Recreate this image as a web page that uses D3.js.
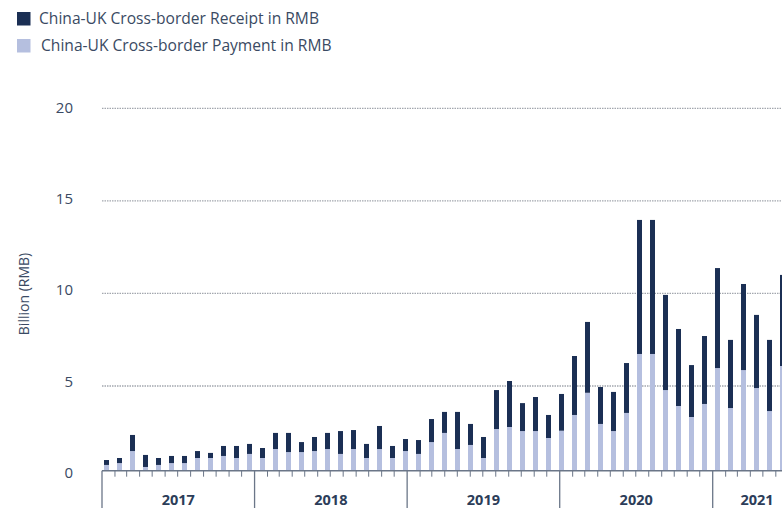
<!DOCTYPE html>
<html>
<head>
<meta charset="utf-8">
<script src="https://cdn.jsdelivr.net/npm/d3@7"></script>
<style>
  body { margin: 0; background: #fff; }
  svg { display: block; font-family: "Open Sans", sans-serif; }
</style>
</head>
<body>
<svg id="chart" width="782" height="513"></svg>
<script>
const months = [
  "2017-01","2017-02","2017-03","2017-04","2017-05","2017-06","2017-07","2017-08","2017-09","2017-10","2017-11","2017-12",
  "2018-01","2018-02","2018-03","2018-04","2018-05","2018-06","2018-07","2018-08","2018-09","2018-10","2018-11","2018-12",
  "2019-01","2019-02","2019-03","2019-04","2019-05","2019-06","2019-07","2019-08","2019-09","2019-10","2019-11","2019-12",
  "2020-01","2020-02","2020-03","2020-04","2020-05","2020-06","2020-07","2020-08","2020-09","2020-10","2020-11","2020-12",
  "2021-01","2021-02","2021-03","2021-04","2021-05"
];

// payment (light, bottom) and receipt (dark, top), billion RMB
const payment = [
  0.34, 0.45, 1.16, 0.22, 0.34, 0.45, 0.45, 0.75, 0.75, 0.87, 0.75, 0.99,
  0.75, 1.28, 1.10, 1.10, 1.16, 1.28, 0.99, 1.28, 0.75, 1.28, 0.75, 1.16,
  0.99, 1.69, 2.23, 1.28, 1.52, 0.75, 2.46, 2.58, 2.34, 2.34, 1.93, 2.36,
  3.29, 4.60, 2.76, 2.34, 3.41, 6.73, 6.73, 4.76, 3.82, 3.17, 3.94, 5.97,
  3.70, 5.86, 4.88, 3.52, 6.08
];
const receipt = [
  0.29, 0.30, 0.95, 0.71, 0.41, 0.42, 0.42, 0.41, 0.30, 0.59, 0.71, 0.59,
  0.59, 0.95, 1.13, 0.59, 0.83, 0.95, 1.35, 1.12, 0.83, 1.36, 0.71, 0.71,
  0.82, 1.36, 1.24, 2.19, 1.24, 1.24, 2.30, 2.69, 1.65, 2.01, 1.36, 2.17,
  3.33, 3.86, 2.18, 2.31, 2.83, 7.24, 7.24, 5.16, 4.26, 2.96, 3.76, 5.40,
  3.79, 4.65, 3.96, 3.97, 4.92
];

const yTicks = [0, 5, 10, 15, 20];
const yearLabels = ["2017", "2018", "2019", "2020", "2021"];
const seriesNames = ["China-UK Cross-border Receipt in RMB", "China-UK Cross-border Payment in RMB"];

const RECEIPT_COLOR = "#1b2f54";
const PAYMENT_COLOR = "#b5bfdf";
const TEXT_COLOR = "#3a4a63";
const AXIS_COLOR = "#6b7688";

const svg = d3.select("#chart");

const rows = months.map((m, i) => ({ month: m, payment: payment[i], receipt: receipt[i] }));
const stack = d3.stack().keys(["payment", "receipt"])(rows);

// bars: evenly spaced band scale
const x = d3.scaleBand()
  .domain(months)
  .range([102, 787])
  .paddingInner(8 / 13)
  .paddingOuter(2 / 13);

// time axis underneath
const parse = d3.utcParse("%Y-%m-%d");
const xTime = d3.scaleUtc()
  .domain([parse("2017-01-01"), parse("2021-01-01")])
  .range([102, 712.7]);
const timeEnd = parse("2021-08-01");

const y = d3.scaleLinear().domain([0, 5, 20]).range([470.7, 386, 108.3]);
const yLabel = d3.scaleLinear().domain([0, 20]).range([472.7, 107.3]);

// gridlines
svg.append("g")
  .selectAll("line")
  .data(yTicks.filter((d) => d > 0))
  .join("line")
  .attr("x1", 102)
  .attr("x2", 782)
  .attr("y1", (d) => y(d))
  .attr("y2", (d) => y(d))
  .attr("stroke", "#a3a7ae")
  .attr("stroke-width", 1.3)
  .attr("stroke-dasharray", "1.5,1");

// y tick labels
svg.append("g")
  .selectAll("text")
  .data(yTicks)
  .join("text")
  .attr("x", 73)
  .attr("y", (d) => yLabel(d))
  .attr("dy", "0.35em")
  .attr("text-anchor", "end")
  .attr("font-size", 15)
  .attr("fill", TEXT_COLOR)
  .text((d) => d);

svg.append("text")
  .attr("transform", "translate(29, 294) rotate(-90)")
  .attr("text-anchor", "middle")
  .attr("font-size", 14)
  .attr("fill", TEXT_COLOR)
  .text("Billion (RMB)");

// bars
svg.append("g")
  .selectAll("g")
  .data(stack)
  .join("g")
  .attr("fill", (s) => (s.key === "payment" ? PAYMENT_COLOR : RECEIPT_COLOR))
  .selectAll("rect")
  .data((s) => s)
  .join("rect")
  .attr("x", (d) => x(d.data.month))
  .attr("width", x.bandwidth())
  .attr("y", (d) => y(d[1]))
  .attr("height", (d) => y(d[0]) - y(d[1]));

// x axis
const axis = svg.append("g").attr("stroke", AXIS_COLOR);
axis.append("line")
  .attr("x1", 102).attr("x2", 782)
  .attr("y1", y(0)).attr("y2", y(0))
  .attr("stroke-width", 1.5);

axis.selectAll(".month-tick")
  .data(d3.utcMonth.range(xTime.domain()[0], timeEnd).filter((d) => d.getUTCMonth() !== 0))
  .join("line")
  .attr("class", "month-tick")
  .attr("x1", (d) => xTime(d)).attr("x2", (d) => xTime(d))
  .attr("y1", y(0)).attr("y2", y(0) + 6)
  .attr("stroke-width", 1);

const yearStarts = d3.utcYear.range(xTime.domain()[0], timeEnd);
axis.selectAll(".year-tick")
  .data(yearStarts)
  .join("line")
  .attr("class", "year-tick")
  .attr("x1", (d) => xTime(d)).attr("x2", (d) => xTime(d))
  .attr("y1", y(0)).attr("y2", 508)
  .attr("stroke-width", 1.3);

svg.append("g")
  .selectAll("text")
  .data(yearStarts)
  .join("text")
  .attr("x", (d) => {
    const next = d3.utcYear.offset(d, 1);
    return (xTime(d) + xTime(next < timeEnd ? next : timeEnd)) / 2;
  })
  .attr("y", 500)
  .attr("dy", "0.35em")
  .attr("text-anchor", "middle")
  .attr("font-size", 14.5)
  .attr("font-weight", "bold")
  .attr("fill", "#2c3d59")
  .text((d, i) => yearLabels[i]);

// legend
const legend = svg.append("g");
const legendItems = [
  { name: seriesNames[0], color: RECEIPT_COLOR, y: 12, tx: 39 },
  { name: seriesNames[1], color: PAYMENT_COLOR, y: 39, tx: 41 }
];
legend.selectAll("rect")
  .data(legendItems)
  .join("rect")
  .attr("x", 17)
  .attr("y", (d) => d.y)
  .attr("width", 13.5)
  .attr("height", 13.5)
  .attr("fill", (d) => d.color);
legend.selectAll("text")
  .data(legendItems)
  .join("text")
  .attr("x", (d) => d.tx)
  .attr("y", (d) => d.y + 7)
  .attr("dy", "0.35em")
  .attr("font-size", 15.6)
  .attr("fill", TEXT_COLOR)
  .text((d) => d.name);
</script>
</body>
</html>
